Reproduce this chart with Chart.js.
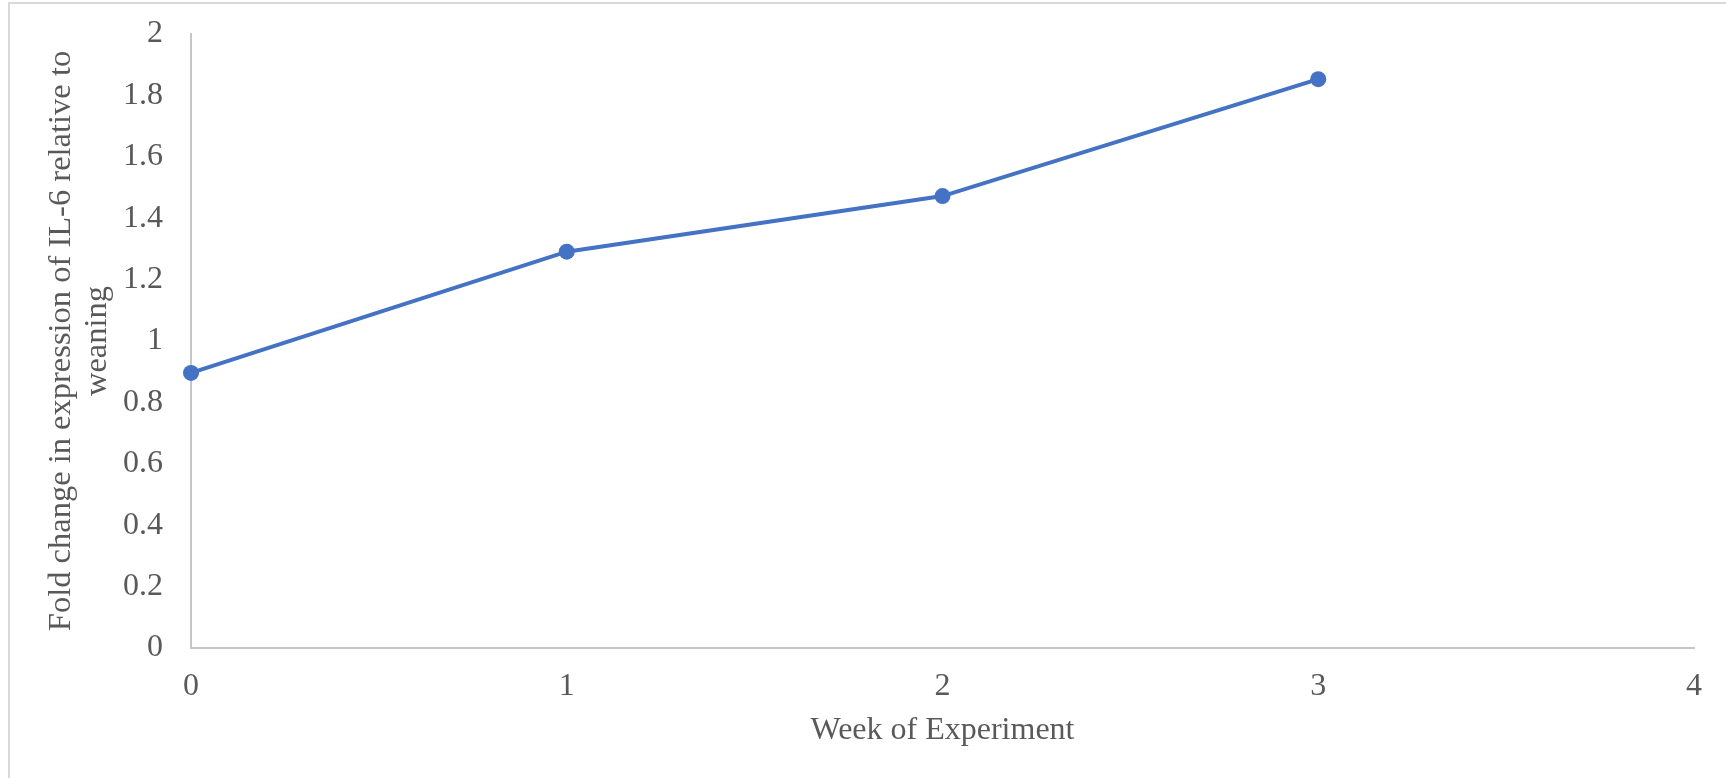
<!DOCTYPE html>
<html>
<head>
<meta charset="utf-8">
<script src="https://cdn.jsdelivr.net/npm/chart.js@4/dist/chart.umd.min.js"></script>
<style>
  html, body { margin: 0; padding: 0; background: #ffffff; overflow: hidden; }
  #wrap { position: relative; width: 1726px; height: 778px; }
  #frame { position: absolute; left: 8px; top: 2px; width: 1800px; height: 900px;
           border-left: 2px solid #d9d9d9; border-top: 2px solid #d9d9d9; pointer-events: none; }
  canvas { position: absolute; left: 0; top: 0; }
</style>
</head>
<body>
<div id="wrap">
  <canvas id="chart" width="1726" height="778"></canvas>
  <div id="frame"></div>
</div>
<script>
// Weekly IL-6 expression, fold change relative to weaning
const weeks = [0, 1, 2, 3];
const foldChange = [0.896, 1.291, 1.472, 1.853];

const xTickLabels = ['0', '1', '2', '3', '4'];
const yTickLabels = ['0', '0.2', '0.4', '0.6', '0.8', '1', '1.2', '1.4', '1.6', '1.8', '2'];

const xTitle = 'Week of Experiment';
const yTitle = ['Fold change in expression of IL-6 relative to', 'weaning'];

const textColor = '#595959';
const axisColor = '#c6c6c6';
const seriesColor = '#4472C4';
const fontFamily = '"Liberation Serif", "Times New Roman", serif';

const points = weeks.map((w, i) => ({ x: w, y: foldChange[i] }));

new Chart(document.getElementById('chart'), {
  type: 'line',
  data: {
    datasets: [{
      data: points,
      borderColor: seriesColor,
      backgroundColor: seriesColor,
      borderWidth: 4,
      pointRadius: 8,
      pointHoverRadius: 8,
      pointBorderWidth: 0,
      pointBackgroundColor: seriesColor,
      tension: 0,
      clip: false
    }]
  },
  options: {
    responsive: false,
    animation: false,
    layout: { padding: { left: 0, right: 32, top: 34, bottom: 0 } },
    plugins: {
      legend: { display: false },
      tooltip: { enabled: false },
      title: { display: false }
    },
    scales: {
      x: {
        type: 'linear',
        min: 0,
        max: 4,
        afterFit: (s) => { s.height = 130; s.paddingLeft = 0; s.paddingRight = 0; },
        grid: { display: false, drawTicks: false },
        border: { display: true, color: axisColor, width: 2 },
        ticks: {
          stepSize: 1,
          padding: 19,
          color: textColor,
          font: { family: fontFamily, size: 32 },
          callback: (v, i) => xTickLabels[i]
        },
        title: {
          display: true,
          text: xTitle,
          color: textColor,
          font: { family: fontFamily, size: 32, lineHeight: 1.15 },
          padding: { top: 0, bottom: 29 }
        }
      },
      y: {
        type: 'linear',
        min: 0,
        max: 2,
        afterFit: (s) => { s.width = 191; s.paddingTop = 0; s.paddingBottom = 0; },
        grid: { display: false, drawTicks: false },
        border: { display: true, color: axisColor, width: 2 },
        ticks: {
          stepSize: 0.2,
          padding: 28,
          color: textColor,
          font: { family: fontFamily, size: 32 },
          callback: (v, i) => yTickLabels[i]
        },
        title: {
          display: true,
          text: yTitle,
          color: textColor,
          font: { family: fontFamily, size: 32.5, lineHeight: 1.1 },
          padding: { top: 44, bottom: 0 }
        }
      }
    }
  }
});
</script>
</body>
</html>
